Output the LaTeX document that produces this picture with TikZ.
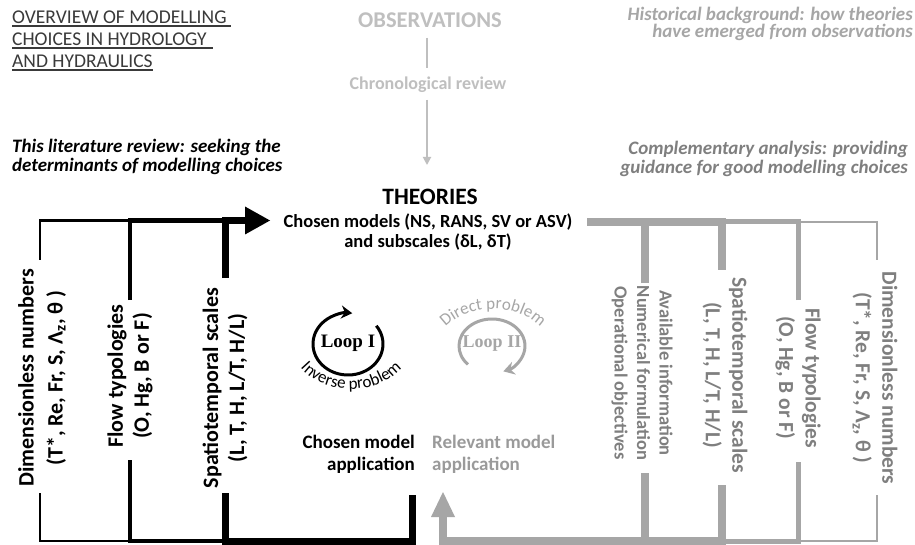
\documentclass[tikz,border=0pt]{standalone}
\usepackage{fontspec}
\setmainfont{Carlito}
\newfontfamily\loopfont{Liberation Serif}
\usetikzlibrary{arrows.meta,decorations.text}
\definecolor{obsgray}{HTML}{BFBFBF}
\definecolor{histgray}{HTML}{A6A6A6}
\definecolor{compgray}{HTML}{7F7F7F}
\definecolor{linegray}{HTML}{A6A6A6}
\definecolor{reltext}{HTML}{9A9A9A}
\definecolor{titlegray}{HTML}{3A3A3A}
\tikzset{
  bthin/.style={line width=2.5pt, black, line join=miter},
  bmed/.style={line width=4.5pt, black, line join=miter},
  bthick/.style={line width=7pt, black, line join=miter},
  gthin/.style={line width=2.5pt, linegray, line join=miter},
  gmed/.style={line width=5pt, linegray, line join=miter},
  gthick/.style={line width=7.5pt, linegray, line join=miter},
  titletxt/.style={inner sep=0pt, anchor=base west, text=titlegray, font=\fontsize{19.5}{22}\selectfont},
  ulline/.style={line width=1.1pt, titlegray},
  rotblk/.style={align=center, inner sep=0pt, font=\bfseries\fontsize{22}{29}\selectfont},
  rotgray/.style={align=center, inner sep=0pt, text=compgray, font=\bfseries\fontsize{21.5}{26.5}\selectfont},
  looptxt/.style={inner sep=0pt, font=\loopfont\bfseries\fontsize{19}{22}\selectfont},
}
\begin{document}
\begin{tikzpicture}[x=1pt,y=1pt]
\useasboundingbox (0,-545) rectangle (915,0);
\fill[white] (0,-545) rectangle (915,0);

% ---- title
\node[titletxt] (t1) at (12,-24) {OVERVIEW OF MODELLING};
\node[titletxt] (t2) at (12,-46) {CHOICES IN HYDROLOGY};
\node[titletxt] (t3) at (12,-68) {AND HYDRAULICS};
\draw[ulline] ([yshift=-2pt]t1.base west) -- ++(219,0);
\draw[ulline] ([yshift=-2pt]t2.base west) -- ++(201,0);
\draw[ulline] ([yshift=-2pt]t3.base west) -- ([yshift=-2pt]t3.base east);

% ---- observations
\node[text=obsgray, font=\bfseries\fontsize{22.5}{24}\selectfont, inner sep=0pt] (obs) at (430,-20) {OBSERVATIONS};
\node[text=obsgray, font=\bfseries\fontsize{18}{19}\selectfont, inner sep=0pt] (chrono) at (428,-85) {Chronological review};
\coordinate (obsA) at (427,-38);
\coordinate (obsB) at (427,-68);
\coordinate (chrA) at (427,-100);
\coordinate (theoTop) at (427,-165);
\draw[obsgray, line width=1.8pt] (obsA) -- (obsB);
\draw[obsgray, line width=1.8pt, -{Triangle[length=8pt,width=8pt]}] (chrA) -- (theoTop);

\node[text=histgray, font=\bfseries\itshape\fontsize{19}{17.5}\selectfont, align=right, anchor=east, inner sep=0pt] (hist) at (913,-24) {Historical background: how theories\\have emerged from observations};
\node[font=\bfseries\itshape\fontsize{19}{19}\selectfont, align=left, anchor=west, inner sep=0pt] (thisrev) at (12,-157) {This literature review: seeking the\\determinants of modelling choices};
\node[text=compgray, font=\bfseries\itshape\fontsize{19}{18.5}\selectfont, align=right, anchor=east, inner sep=0pt] (compl) at (908,-159) {Complementary analysis: providing\\guidance for good modelling choices};

% ---- theories
\node[font=\bfseries\fontsize{23.5}{24}\selectfont, inner sep=0pt] (theo) at (430,-197) {THEORIES};
\node[font=\bfseries\fontsize{18.5}{19.5}\selectfont, align=center, inner sep=0pt] (chosen) at (428,-232) {Chosen models (NS, RANS, SV or ASV)\\and subscales (δL, δT)};

% ---- left black structure
\draw[bthin] (40,-260) -- (40,-220.5) -- (130,-220.5);
\draw[bthin] (40,-493) -- (40,-541) -- (130,-541);
\draw[bmed] (130,-300) -- (130,-220.5) -- (225,-220.5);
\draw[bmed] (130,-460) -- (130,-541) -- (225,-541);
\coordinate (arrBase) at (247,-220.5);
\draw[bthick] (225,-278) -- (225,-220.5) -- (arrBase);
\fill[black] (245,-206.5) -- (270,-220.5) -- (245,-234.5) -- cycle;
\coordinate (appBlk) at (412,-495);
\draw[bthick] (225,-493) -- (225,-541) -- (412,-541) -- (appBlk);

\node[rotblk, rotate=90] (dimL) at (42,-378) {Dimensionless numbers\\(T*, Re, Fr, S, Λ\textsubscript{z}, θ )};
\node[rotblk, rotate=90, font=\bfseries\fontsize{22}{26}\selectfont] (flowL) at (130,-376) {Flow typologies\\(O, Hg, B or F)};
\node[rotblk, rotate=90, font=\bfseries\fontsize{22}{26}\selectfont] (spatL) at (225,-388) {Spatiotemporal scales\\(L, T, H, L/T, H/L)};

% ---- right gray structure
\draw[gthin] (877,-260) -- (877,-222) -- (798,-222);
\draw[gthin] (877,-495) -- (877,-541) -- (798,-541);
\draw[gmed] (798,-300) -- (798,-222) -- (722,-222);
\draw[gmed] (798,-462) -- (798,-541) -- (722,-541);
\draw[gthick] (722,-270) -- (722,-222) -- (587,-222);
\draw[gthick] (645,-283) -- (645,-222);
\draw[gthick] (645,-473) -- (645,-541);
\coordinate (arrGBase) at (443,-515);
\draw[gthick] (722,-485) -- (722,-541) -- (443,-541) -- (arrGBase);
\fill[linegray] (431,-517) -- (443,-492) -- (455,-517) -- cycle;

\node[rotgray, rotate=-90] (dimR) at (875,-378) {Dimensionless numbers\\(T*, Re, Fr, S, Λ\textsubscript{z}, θ )};
\node[rotgray, rotate=-90] (flowR) at (798,-378) {Flow typologies\\(O, Hg, B or F)};
\node[rotgray, rotate=-90] (spatR) at (725,-375) {Spatiotemporal scales\\(L, T, H, L/T, H/L)};
\node[rotgray, rotate=-90, font=\bfseries\fontsize{18.5}{22.5}\selectfont] (availR) at (642,-373) {Available information\\Numerical formulation\\Operational objectives};

% ---- application labels
\node[font=\bfseries\fontsize{19}{22}\selectfont, align=right, anchor=east, inner sep=0pt] (chapp) at (415,-454) {Chosen model\\application};
\node[text=reltext, font=\bfseries\fontsize{19}{22}\selectfont, align=left, anchor=west, inner sep=0pt] (relapp) at (432,-454) {Relevant model\\application};

% ---- loops
\draw[black, line width=3pt, -{Stealth[length=11pt,width=13pt]}] (348,-344) ++(36:35 and 31) arc[start angle=36, end angle=-277, x radius=35, y radius=31];
\node[looptxt] (loop1) at (348,-343) {Loop I};
\path[decorate, decoration={text along path, text align=center, text={|\fontsize{17}{17}\selectfont|Inverse problem}}] (351,-343) ++(195:60 and 46) arc[start angle=195, end angle=345, x radius=60, y radius=46];

\draw[linegray, line width=3pt, -{Stealth[length=11pt,width=13pt]}] (492,-346) ++(223:33 and 27) arc[start angle=223, end angle=-70, x radius=33, y radius=27];
\node[looptxt, text=linegray, font=\loopfont\bfseries\fontsize{18}{22}\selectfont] (loop2) at (492,-344) {Loop II};
\path[decorate, decoration={text along path, text align=center, text={|\fontsize{17}{17}\selectfont\color{linegray}|Direct problem}}] (493,-352) ++(165:58 and 43) arc[start angle=165, end angle=15, x radius=58, y radius=43];
\end{tikzpicture}
\end{document}
